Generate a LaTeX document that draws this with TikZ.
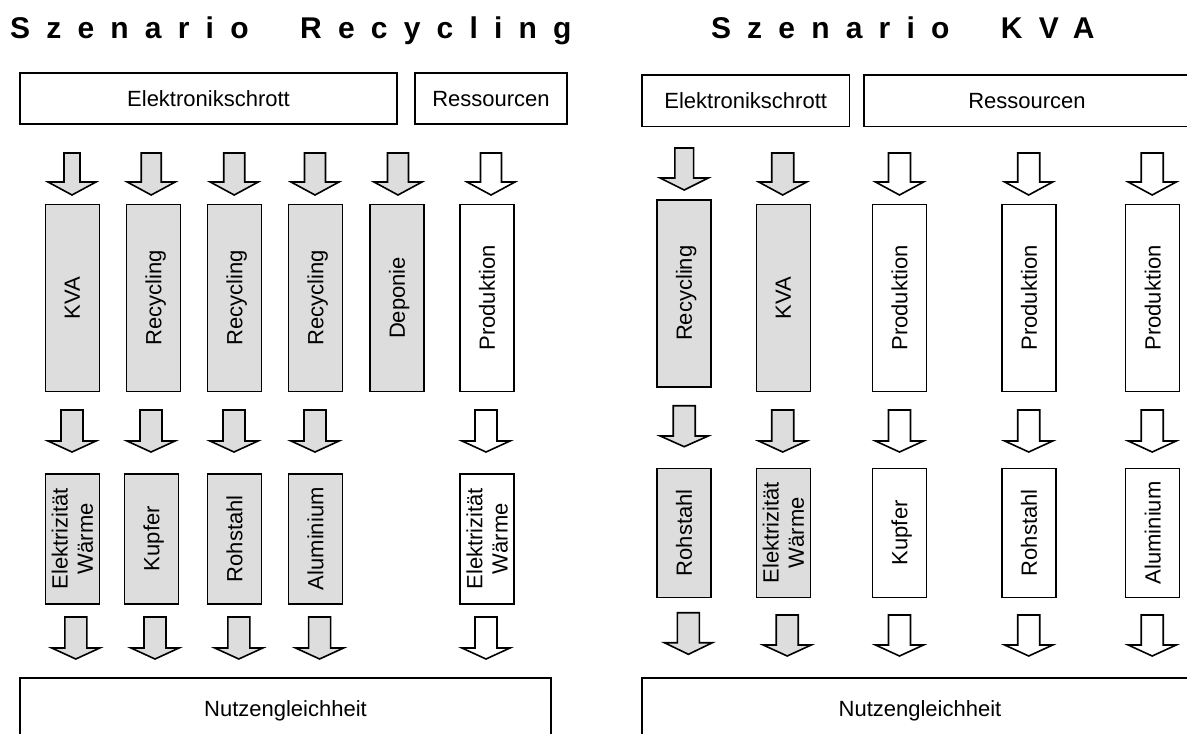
\documentclass[tikz,border=0pt]{standalone}
\usepackage{fontspec}
\setmainfont{Liberation Sans}
\definecolor{boxgray}{RGB}{221,221,221}

% block arrow pointing down: [style] {centre x}{top}{head start}{tip}{shaft half width}
\newcommand{\blockarrow}[6][flowgray]{%
  \draw[#1] (#2-#6,#3) -- (#2-#6,#4) -- (#2-24,#4) -- (#2,#5)
    -- (#2+24,#4) -- (#2+#6,#4) -- (#2+#6,#3) -- cycle;}

\tikzset{
  every node/.style={font=\fontsize{22}{25.3}\selectfont},
  frame/.style={draw=black, line width=1.6pt, inner sep=0pt, text depth=0pt},
  hbox/.style={frame, fill=white},
  tallbox/.style={frame, rotate=90, align=center, minimum width=187pt, minimum height=54pt},
  shortbox/.style={frame, rotate=90, align=center, minimum width=130pt, minimum height=54pt},
  grayfill/.style={fill=boxgray},
  whitefill/.style={fill=white},
  flowgray/.style={draw=black, line width=1.6pt, line join=miter, fill=boxgray},
  flowwhite/.style={draw=black, line width=1.6pt, line join=miter, fill=white},
  title/.style={inner sep=0pt, anchor=base west,
    font=\fontsize{30}{34}\selectfont\bfseries\addfontfeature{LetterSpace=54}},
}

\begin{document}
\begin{tikzpicture}[x=1pt, y=-1pt]
\useasboundingbox (0,0) rectangle (1187,734);
\clip (0,0) rectangle (1187,734);

% titles
\node[title] (titleL) at (10,38) {Szenario\hspace{27pt} Recycling};
\node[title] (titleR) at (710.8,38) {Szenario\hspace{27pt} KVA};

% ---------- Szenario Recycling ----------
\node[hbox, minimum width=377pt, minimum height=51pt] (srcL) at (208.5,98.5) {Elektronikschrott};
\node[hbox, minimum width=152pt, minimum height=51pt] (resL) at (491,98.5) {Ressourcen};

\blockarrow{72}{153}{182}{195}{8}
\blockarrow{151.2}{153}{182}{195}{10}
\blockarrow{234.2}{153}{182}{195}{10.5}
\blockarrow{315}{153}{182}{195}{10.5}
\blockarrow{398}{153}{182}{195}{10.5}
\blockarrow[flowwhite]{491}{153}{182}{195}{10.5}

\node[tallbox, grayfill] (kvaL) at (72.3,298) {KVA};
\node[tallbox, grayfill] (recL1) at (153.3,298) {Recycling};
\node[tallbox, grayfill] (recL2) at (234.4,298) {Recycling};
\node[tallbox, grayfill] (recL3) at (315.5,298) {Recycling};
\node[tallbox, grayfill] (depL) at (396.9,298) {Deponie};
\node[tallbox, whitefill] (prodL) at (487,298) {Produktion};

\blockarrow{72}{410}{441}{452}{11}
\blockarrow{151}{410}{441}{452}{11}
\blockarrow{234}{410}{441}{452}{11}
\blockarrow{315}{410}{441}{452}{11}
\blockarrow[flowwhite]{486}{410}{441}{452}{11}

\node[shortbox, grayfill] (ewL) at (72.3,538.7) {Elektrizität\\Wärme};
\node[shortbox, grayfill] (cuL) at (151.4,538.7) {Kupfer};
\node[shortbox, grayfill] (feL) at (234.4,538.7) {Rohstahl};
\node[shortbox, grayfill] (alL) at (315.5,538.7) {Aluminium};
\node[shortbox, whitefill] (ewL2) at (487,538.7) {Elektrizität\\Wärme};

\blockarrow{75.8}{617}{648}{659}{11}
\blockarrow{155}{617}{648}{659}{11}
\blockarrow{238.8}{617}{648}{659}{11}
\blockarrow{319.6}{617}{648}{659}{11}
\blockarrow[flowwhite]{486}{617}{648}{659}{11}

\node[hbox, minimum width=531pt, minimum height=62pt] (nutzL) at (285.5,709) {Nutzengleichheit};

% ---------- Szenario KVA ----------
\node[hbox, minimum width=207.3pt, minimum height=51.7pt] (srcR) at (745.7,100.8) {Elektronikschrott};
\node[hbox, minimum width=326pt, minimum height=51.7pt] (resR) at (1027,100.8) {Ressourcen};

\blockarrow{684.2}{148}{178}{190}{9.4}
\blockarrow{782.7}{153}{182}{195}{11}
\blockarrow[flowwhite]{899.5}{153}{182}{195}{11}
\blockarrow[flowwhite]{1028.7}{153}{182}{195}{11}
\blockarrow[flowwhite]{1152.2}{153}{182}{195}{11}

\node[tallbox, grayfill] (recR) at (684,293.3) {Recycling};
\node[tallbox, grayfill] (kvaR) at (783.3,298) {KVA};
\node[tallbox, whitefill] (prodR1) at (899.4,298) {Produktion};
\node[tallbox, whitefill] (prodR2) at (1029,298) {Produktion};
\node[tallbox, whitefill] (prodR3) at (1152.6,298) {Produktion};

\blockarrow{684.2}{405.7}{436}{446.7}{11}
\blockarrow{782.7}{410}{441}{452}{11}
\blockarrow[flowwhite]{899.5}{410}{441}{452}{11}
\blockarrow[flowwhite]{1028.7}{410}{441}{452}{11}
\blockarrow[flowwhite]{1152.2}{410}{441}{452}{11}

\node[shortbox, grayfill, minimum width=129pt] (feR) at (684,532.8) {Rohstahl};
\node[shortbox, grayfill, minimum width=129pt] (ewR) at (783.3,532.8) {Elektrizität\\Wärme};
\node[shortbox, whitefill, minimum width=129pt] (cuR) at (899.4,532.8) {Kupfer};
\node[shortbox, whitefill, minimum width=129pt] (feR2) at (1029,532.8) {Rohstahl};
\node[shortbox, whitefill, minimum width=129pt] (alR) at (1152.6,532.8) {Aluminium};

\blockarrow{688.4}{612.7}{642.7}{654.3}{11}
\blockarrow{787.2}{615}{645}{656}{11}
\blockarrow[flowwhite]{899.5}{615}{645}{656}{11}
\blockarrow[flowwhite]{1028.7}{615}{645}{656}{11}
\blockarrow[flowwhite]{1152.2}{615}{645}{656}{11}

\node[hbox, minimum width=556pt, minimum height=62pt] (nutzR) at (920,709) {Nutzengleichheit};
\end{tikzpicture}
\end{document}
